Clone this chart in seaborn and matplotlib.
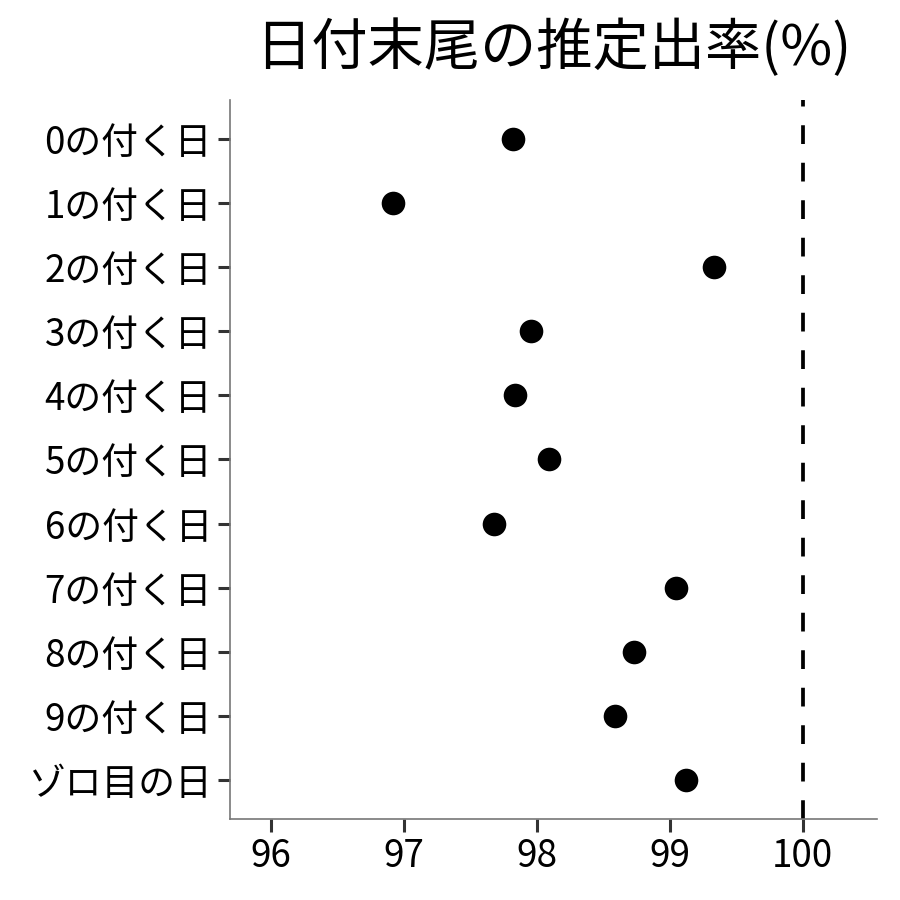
import matplotlib
matplotlib.use("Agg")
import matplotlib.pyplot as plt
import pandas as pd
import seaborn as sns

# ---------------------------------------------------------------------------
# Data
# ---------------------------------------------------------------------------
day_labels = ["0の付く日", "1の付く日", "2の付く日", "3の付く日", "4の付く日",
              "5の付く日", "6の付く日", "7の付く日", "8の付く日", "9の付く日",
              "ゾロ目の日"]
rates = [97.82, 96.92, 99.33, 97.955, 97.835, 98.09, 97.68, 99.05, 98.73,
         98.585, 99.12]
x_ticks = [96, 97, 98, 99, 100]
ref_line = 100

df = pd.DataFrame({"day": day_labels, "rate": rates})

sns.set_style("white")
plt.rcParams["font.family"] = ["Noto Sans CJK JP", "DejaVu Sans"]

fig = plt.figure(figsize=(9, 9), dpi=100)
ax = fig.add_axes([0.2556, 0.09, 0.7188, 0.7989])

sns.stripplot(data=df, x="rate", y="day", order=day_labels, jitter=False,
              color="black", size=17, linewidth=0, ax=ax, zorder=3)

ax.axvline(ref_line, color="black", linewidth=2.7, dashes=(5, 5), zorder=2)

ax.set_xlim(95.69, 100.56)
ax.set_ylim(len(day_labels) - 0.4, -0.6)
ax.set_xticks(x_ticks)
ax.set_xticklabels([str(t) for t in x_ticks])
ax.set_xlabel("")
ax.set_ylabel("")
ax.set_title("日付末尾の推定出率(%)", fontsize=40.5, color="black", pad=25)

for side in ["top", "right"]:
    ax.spines[side].set_visible(False)
for side in ["left", "bottom"]:
    ax.spines[side].set_color("#777777")
    ax.spines[side].set_linewidth(1.2)

ax.tick_params(axis="both", which="major", bottom=True, left=True,
               length=9, width=2.2, color="#333333", labelsize=26.5,
               labelcolor="black", pad=4)
ax.grid(False)

plt.savefig("out.png", dpi=100)
plt.close()
